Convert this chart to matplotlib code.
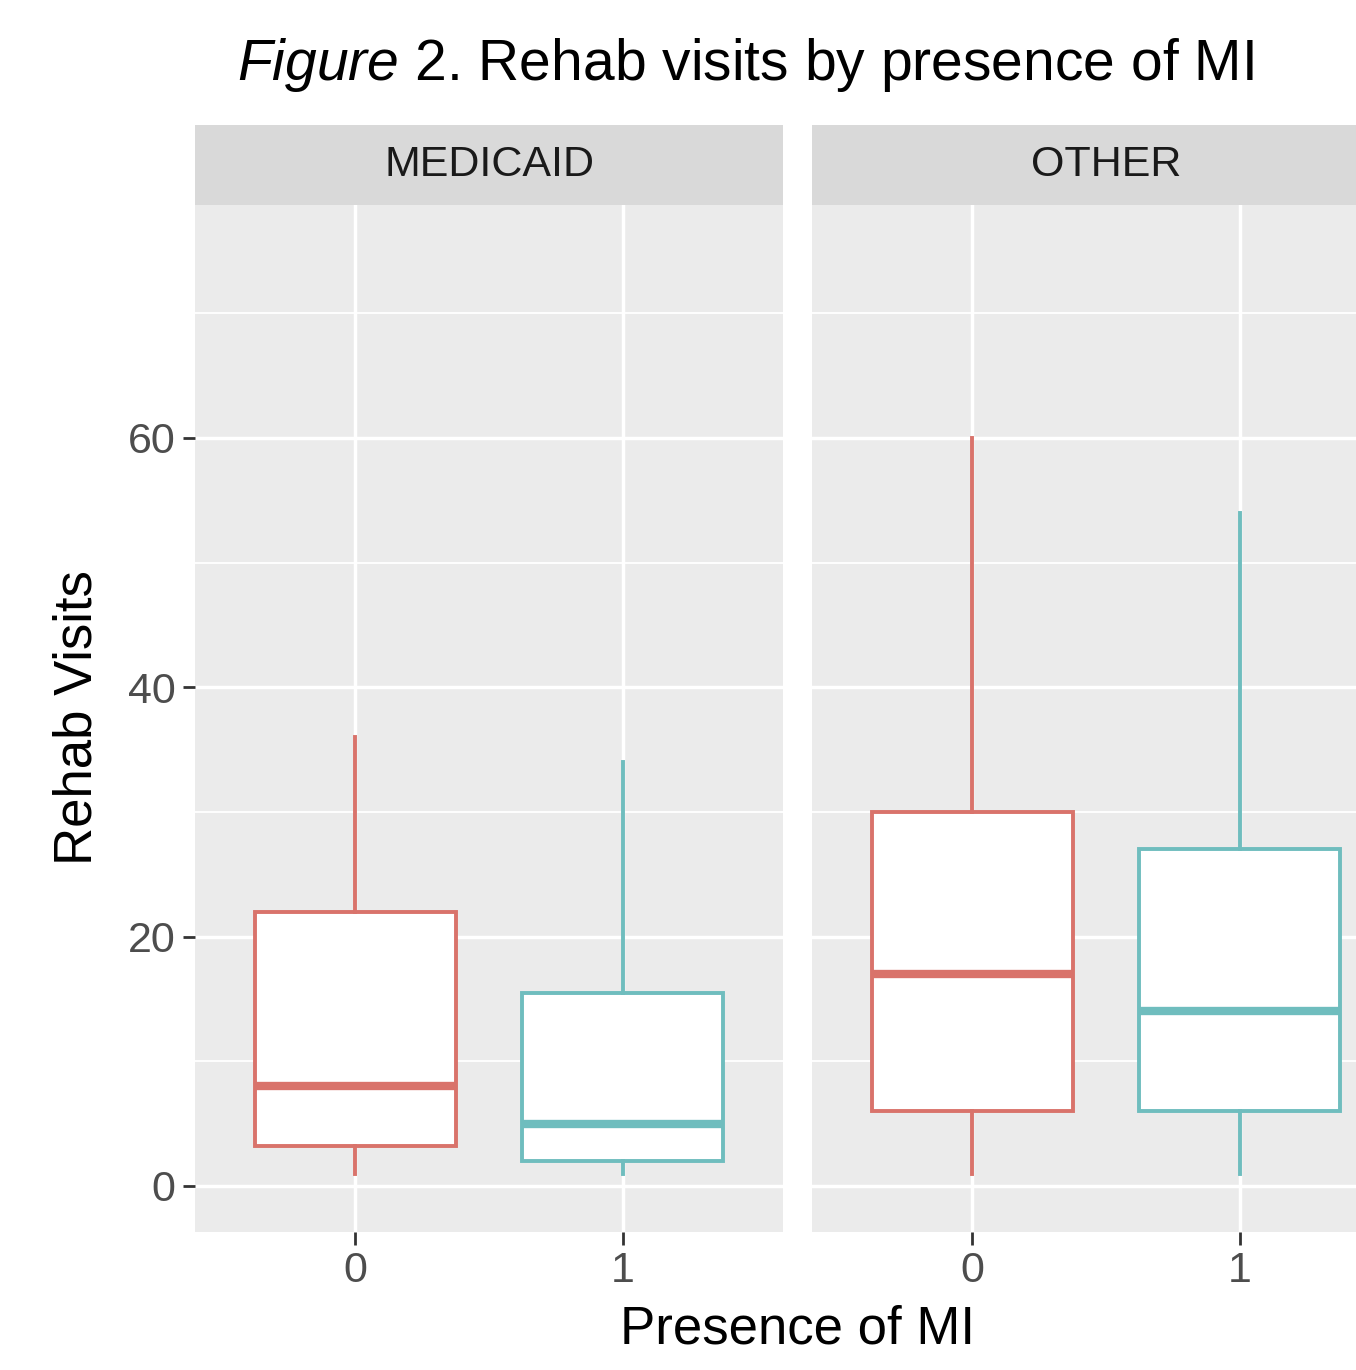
import matplotlib.pyplot as plt

# Data
panels = ['MEDICAID', 'OTHER']
mi_levels = ['0', '1']
colors = ['#D9736B', '#6FBDBE']

# per panel, per MI level: whisker low, q1, median, q3, whisker high
whislo = [[1, 1], [1, 1]]
q1 = [[3.2, 2], [6, 6]]
med = [[8, 5], [17, 14]]
q3 = [[22, 15.5], [30, 27]]
whishi = [[36, 34], [60, 54]]

y_major = [0, 20, 40, 60]
y_minor = [10, 30, 50, 70]

plt.rcParams['font.family'] = ['Liberation Sans', 'DejaVu Sans']
plt.rcParams['mathtext.fontset'] = 'custom'
plt.rcParams['mathtext.rm'] = 'Liberation Sans'
plt.rcParams['mathtext.it'] = 'Liberation Sans:italic'

W, H = 1356, 1370
fig = plt.figure(figsize=(W / 100, H / 100), dpi=100)

pan_left = [195, 812]
pan_w = 588
pan_top, pan_bot = 205, 1232
strip_top = 125

for p, name in enumerate(panels):
    ax = fig.add_axes([pan_left[p] / W, 1 - pan_bot / H, pan_w / W, (pan_bot - pan_top) / H])
    ax.set_facecolor('#EBEBEB')
    for s in ax.spines.values():
        s.set_visible(False)
    ax.set_xlim(0.4, 2.6)
    ax.set_ylim(-3.69, 78.67)
    for y in y_minor:
        ax.axhline(y, color='white', lw=1.3, zorder=0)
    for y in y_major:
        ax.axhline(y, color='white', lw=2.5, zorder=0)
    for x in [1, 2]:
        ax.axvline(x, color='white', lw=2.5, zorder=0)

    stats = []
    for i in range(2):
        stats.append(dict(whislo=whislo[p][i], q1=q1[p][i], med=med[p][i],
                          q3=q3[p][i], whishi=whishi[p][i], fliers=[]))
    for i in range(2):
        c = colors[i]
        ax.bxp([stats[i]], positions=[i + 1], widths=0.75, patch_artist=True,
               showcaps=False, manage_ticks=False,
               boxprops=dict(facecolor='white', edgecolor=c, linewidth=2.8),
               whiskerprops=dict(color=c, linewidth=2.8),
               medianprops=dict(color=c, linewidth=6, solid_capstyle='butt'),
               zorder=2)

    ax.set_xticks([1, 2])
    ax.set_xticklabels(mi_levels)
    ax.tick_params(axis='x', length=9, width=2, color='#333333', labelsize=31,
                   labelcolor='#4D4D4D', pad=5)
    if p == 0:
        ax.set_yticks(y_major)
        ax.tick_params(axis='y', length=9, width=2, color='#333333', labelsize=31,
                       labelcolor='#4D4D4D', pad=5)
    else:
        ax.set_yticks([])

    sax = fig.add_axes([pan_left[p] / W, 1 - pan_top / H, pan_w / W, (pan_top - strip_top) / H])
    sax.set_facecolor('#D9D9D9')
    sax.set_xticks([])
    sax.set_yticks([])
    for s in sax.spines.values():
        s.set_visible(False)
    sax.text(294 / pan_w, 0.5, name, transform=sax.transAxes, ha='center', va='center',
             fontsize=31, color='#1A1A1A')

fig.text(745 / W, 1 - 65 / H, r'$\it{Figure}$ $\it{2}$. Rehab visits by presence of MI',
         ha='center', va='center', fontsize=41, color='black')
fig.text(797 / W, 1 - 1330 / H, 'Presence of MI', ha='center', va='center', fontsize=38)
fig.text(78 / W, 1 - 718 / H, 'Rehab Visits', ha='center', va='center', fontsize=38,
         rotation=90)

fig.savefig('out.png', dpi=100)
